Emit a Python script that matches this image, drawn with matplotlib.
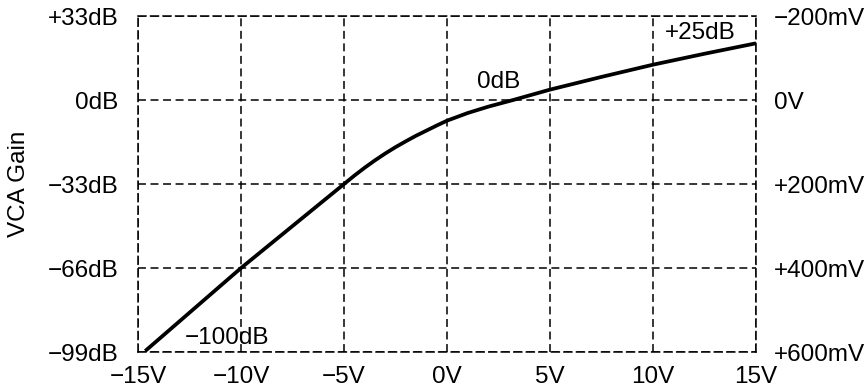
import matplotlib
matplotlib.use('Agg')
import matplotlib.pyplot as plt

plt.rcParams['font.family'] = ['Liberation Sans', 'DejaVu Sans']

# control voltage vs gain
control_v = [-14.65, -10, -5, -4.5, -4, -3.5, -3, -2.5, -2, -1.5, -1, -0.5, 0,
             1, 2, 3.2, 5, 7.5, 10, 12.5, 15]
gain_db = [-98.6, -66, -33, -29.7, -26.6, -23.7, -21.0, -18.5, -16.2, -14.0, -12.0, -10.0, -8.1,
           -5.1, -2.6, 0, 4.1, 9.1, 13.9, 18.2, 22.3]

x_ticks = [-15, -10, -5, 0, 5, 10, 15]
x_labels = ['\u221215V', '\u221210V', '\u22125V', '0V', '5V', '10V', '15V']
db_ticks = [33, 0, -33, -66, -99]
db_labels = ['+33dB', '0dB', '\u221233dB', '\u221266dB', '\u221299dB']
mv_ticks = [-200, 0, 200, 400, 600]
mv_labels = ['\u2212200mV', '0V', '+200mV', '+400mV', '+600mV']

fs = 17.5
dash = (0, (5.2, 3.0))

fig = plt.figure(figsize=(8.68, 3.92), dpi=100)
ax = fig.add_axes([0.159, 0.102, 0.712, 0.857])
ax.plot(control_v, gain_db, color='black', lw=2.7, solid_capstyle='butt',
        solid_joinstyle='round', zorder=3)

ax.set_xlim(-15, 15)
ax.set_ylim(-99, 33)
ax.set_xticks(x_ticks)
ax.set_xticklabels(x_labels, fontsize=fs)
ax.set_yticks(db_ticks)
ax.set_yticklabels(db_labels, fontsize=fs)
ax.tick_params(axis='both', length=0)
ax.tick_params(axis='y', pad=14)
ax.tick_params(axis='x', pad=10)
ax.grid(True, color='black', lw=1.1, linestyle=dash)
for s in ax.spines.values():
    s.set_linestyle(dash)
    s.set_linewidth(1.1)
ax.set_ylabel('VCA Gain', fontsize=fs, labelpad=13)

ax2 = ax.twinx()
ax2.set_ylim(600, -200)
ax2.set_yticks(mv_ticks)
ax2.set_yticklabels(mv_labels, fontsize=fs)
ax2.tick_params(axis='y', length=0, pad=13)
for s in ax2.spines.values():
    s.set_visible(False)

ax.text(12.3, 26.3, '+25dB', fontsize=fs, ha='center', va='center')
ax.text(2.5, 6.9, '0dB', fontsize=fs, ha='center', va='center')
ax.text(-10.66, -93.3, '\u2212100dB', fontsize=fs, ha='center', va='center')

fig.savefig('out.png', dpi=100)
